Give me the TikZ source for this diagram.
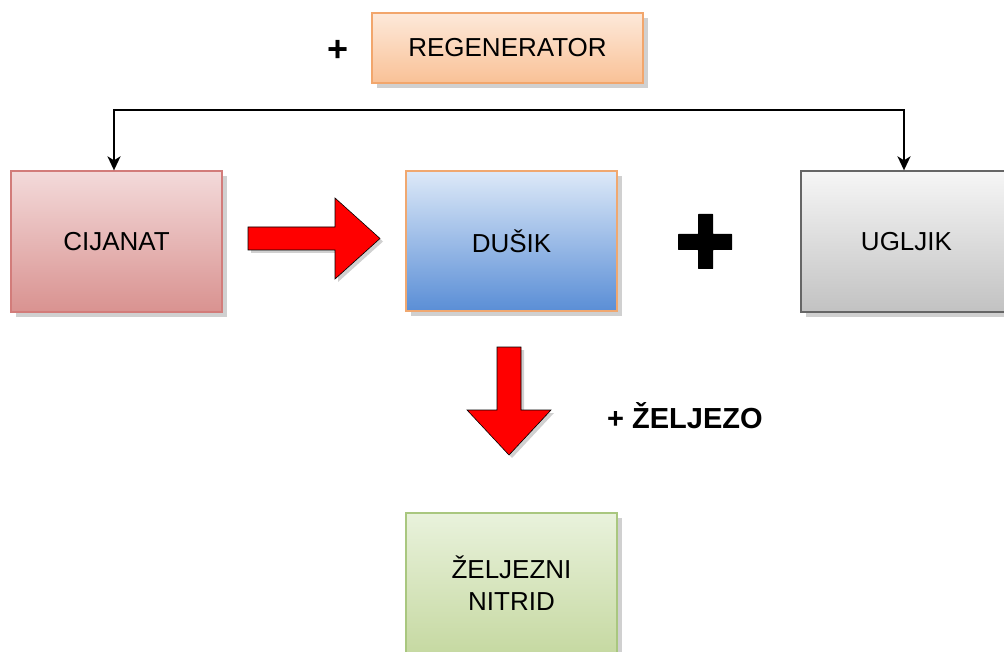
\documentclass[tikz,border=0pt]{standalone}
\usepackage{fontspec}
\setmainfont{Liberation Sans}
\usetikzlibrary{shadows,arrows.meta,calc}
\definecolor{regT}{HTML}{FDE9DA}
\definecolor{regB}{HTML}{F9C196}
\definecolor{regD}{HTML}{F2A66C}
\definecolor{cijT}{HTML}{F3DADA}
\definecolor{cijB}{HTML}{D99290}
\definecolor{cijD}{HTML}{D27C7A}
\definecolor{dusT}{HTML}{DDE9F8}
\definecolor{dusB}{HTML}{5A8ED6}
\definecolor{dusD}{HTML}{F0A870}
\definecolor{ugT}{HTML}{F6F6F6}
\definecolor{ugB}{HTML}{C2C2C2}
\definecolor{ugD}{HTML}{666666}
\definecolor{niT}{HTML}{E9F2DC}
\definecolor{niB}{HTML}{C6D9A2}
\definecolor{niD}{HTML}{A9C77F}
\definecolor{shad}{HTML}{D0D0D0}
\tikzset{
  box/.style={rectangle, line width=1.3pt, minimum width=211pt, minimum height=140pt,
    inner sep=0pt, align=center, shading=axis, shading angle=0,
    font=\fontsize{26}{32}\selectfont,
    drop shadow={shadow xshift=5pt, shadow yshift=-5pt, fill=shad, opacity=1}},
  redarrow/.style={fill=red, draw=black, line width=0.6pt,
    drop shadow={shadow xshift=3pt, shadow yshift=-3pt, fill=shad, opacity=1}},
  conn/.style={draw=black, line width=2.2pt, {Stealth[length=14pt,width=13pt,inset=4pt]}-{Stealth[length=14pt,width=13pt,inset=4pt]}},
}
\begin{document}
\begin{tikzpicture}[x=1pt,y=-1pt]
\useasboundingbox (0,0) rectangle (1004,652);
% boxes
\node[box, minimum width=271pt, minimum height=70pt, top color=regT, bottom color=regB, draw=regD] (reg) at (507.5,48) {REGENERATOR};
\node[box, minimum height=141pt, top color=cijT, bottom color=cijB, draw=cijD] (cij) at (116.5,241.5) {CIJANAT};
\node[box, top color=dusT, bottom color=dusB, draw=dusD] (dus) at (511.5,241) {DUŠIK};
\node[box, minimum height=141pt, top color=ugT, bottom color=ugB, draw=ugD] (ugl) at (906.5,241.5) {UGLJIK};
\node[box, top color=niT, bottom color=niB, draw=niD] (nit) at (511.5,583) {ŽELJEZNI\\NITRID};
% texts
\node[font=\fontsize{36}{40}\selectfont\bfseries, inner sep=0pt] (plus) at (338,51) {+};
\node[font=\fontsize{29}{34}\selectfont\bfseries, inner sep=0pt, anchor=west] (zel) at (607,416) {+ ŽELJEZO};
% connector
\coordinate (jl) at (114,110);
\coordinate (jr) at (904,110);
\draw[conn] (cij.north -| jl) -- (jl) -- (jr) -- (ugl.north -| jr);
% red right arrow
\path[redarrow] (248,227) -- (335,227) -- (335,198) -- (380,238.5) -- (335,279) -- (335,250) -- (248,250) -- cycle;
% red down arrow
\path[redarrow] (497,347) -- (521,347) -- (521,410) -- (551,410) -- (509,455) -- (467,410) -- (497,410) -- cycle;
% big plus
\fill[black, rounded corners=0.5pt] (698,214) -- (713,214) -- (713,234) -- (732,234) -- (732,250) -- (713,250) -- (713,269) -- (698,269) -- (698,250) -- (678,250) -- (678,234) -- (698,234) -- cycle;
\end{tikzpicture}
\end{document}
